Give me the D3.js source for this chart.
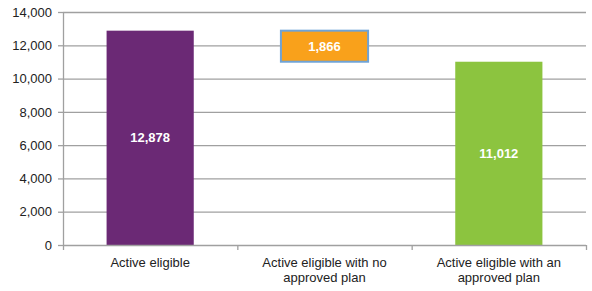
<!DOCTYPE html>
<html>
<head>
<meta charset="utf-8">
<script src="https://cdn.jsdelivr.net/npm/d3@7"></script>
<style>
  body { margin: 0; background: #fff; }
  text { font-family: "Liberation Sans", Arial, sans-serif; }
</style>
</head>
<body>
<script>
var categories = ["Active eligible", "Active eligible with no approved plan", "Active eligible with an approved plan"];
var labelLines = [["Active eligible"], ["Active eligible with no", "approved plan"], ["Active eligible with an", "approved plan"]];
var bases = [0, 11012, 0];
var values = [12878, 1866, 11012];
var colors = ["#6b2975", "#f9a11b", "#8cc43f"];
var yTicks = [0, 2000, 4000, 6000, 8000, 10000, 12000, 14000];

const margin = {top: 12, right: 6, bottom: 46, left: 63};
var width = 592, height = 291;
var innerW = width - margin.left - margin.right;
var innerH = height - margin.top - margin.bottom;

var svg = d3.select("body").append("svg")
    .attr("width", width)
    .attr("height", height);

var g = svg.append("g")
    .attr("transform", `translate(${margin.left},${margin.top})`);

var x = d3.scaleBand()
    .domain(categories)
    .range([0, innerW])
    .paddingInner(0)
    .paddingOuter(0);

var y = d3.scaleLinear()
    .domain([0, 14000])
    .range([innerH, 0]);

// gridlines
g.selectAll(".grid")
    .data(yTicks.slice(1))
    .join("line")
    .attr("x1", 0)
    .attr("x2", innerW)
    .attr("y1", d => y(d) + 0.5)
    .attr("y2", d => y(d) + 0.5)
    .attr("stroke", "#a0a0a0")
    .attr("stroke-width", 1.3);

// y axis
var yAxis = g.append("g")
    .call(d3.axisLeft(y).tickValues(yTicks).tickFormat(d3.format(",")).tickSize(5).tickSizeOuter(0));
yAxis.select(".domain").attr("stroke", "#a0a0a0").attr("stroke-width", 1.3);
yAxis.selectAll(".tick line").attr("stroke", "#a0a0a0").attr("stroke-width", 1.3);
yAxis.selectAll(".tick text")
    .attr("x", -11)
    .attr("font-size", "13px")
    .attr("fill", "#222");

// bars
var barW = x.bandwidth() / 2;
g.selectAll(".bar")
    .data(categories)
    .join("rect")
    .attr("x", d => x(d) + (x.bandwidth() - barW) / 2)
    .attr("y", (d, i) => y(bases[i] + values[i]))
    .attr("width", barW)
    .attr("height", (d, i) => y(bases[i]) - y(bases[i] + values[i]))
    .attr("fill", (d, i) => colors[i])
    .attr("stroke", (d, i) => i === 1 ? "#6fa3d6" : "none")
    .attr("stroke-width", 2);

// value labels
g.selectAll(".val")
    .data(categories)
    .join("text")
    .attr("x", d => x(d) + x.bandwidth() / 2)
    .attr("y", (d, i) => y(bases[i] + values[i] / 2))
    .attr("dy", "0.35em")
    .attr("text-anchor", "middle")
    .attr("font-size", "13px")
    .attr("font-weight", "bold")
    .attr("fill", "#fff")
    .text((d, i) => d3.format(",")(values[i]));

// x axis
var xAxis = g.append("g")
    .attr("transform", `translate(0,${innerH})`);
xAxis.append("line")
    .attr("x1", 0).attr("x2", innerW)
    .attr("y1", 0.5).attr("y2", 0.5)
    .attr("stroke", "#a0a0a0").attr("stroke-width", 1.3);
xAxis.selectAll(".xt")
    .data(d3.range(categories.length + 1))
    .join("line")
    .attr("x1", i => i * x.bandwidth() + 0.5)
    .attr("x2", i => i * x.bandwidth() + 0.5)
    .attr("y1", 0).attr("y2", 5)
    .attr("stroke", "#a0a0a0").attr("stroke-width", 1.3);

xAxis.selectAll(".xl")
    .data(categories)
    .join("text")
    .attr("text-anchor", "middle")
    .attr("font-size", "13px")
    .attr("fill", "#222")
    .attr("transform", d => `translate(${x(d) + x.bandwidth() / 2},22)`)
    .each(function(d, i) {
        var t = d3.select(this);
        labelLines[i].forEach((line, j) => {
            t.append("tspan").attr("x", 0).attr("dy", j === 0 ? 0 : 15).text(line);
        });
    });
</script>
</body>
</html>
